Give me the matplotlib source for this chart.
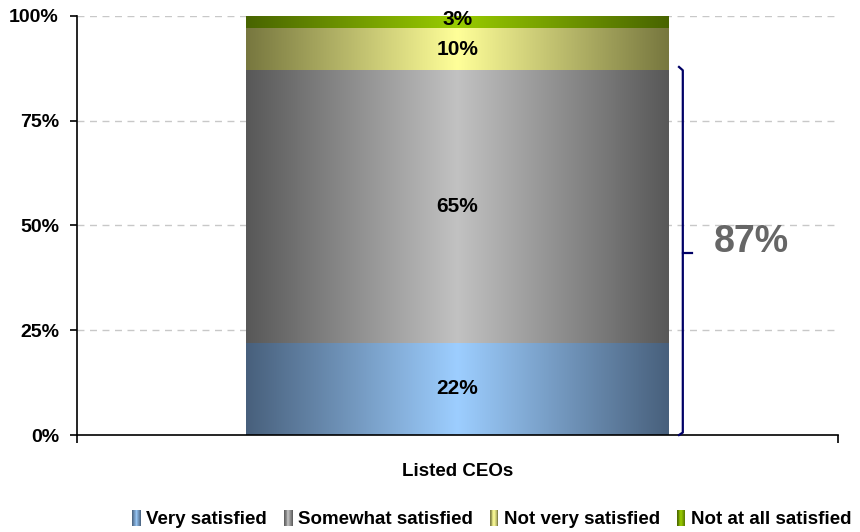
import numpy as np
import matplotlib
matplotlib.use("Agg")
import matplotlib.pyplot as plt
from matplotlib.colors import LinearSegmentedColormap
from matplotlib.legend_handler import HandlerBase
from matplotlib.patches import Rectangle

# ---- data ----
category = "Listed CEOs"
series_names = ["Very satisfied", "Somewhat satisfied", "Not very satisfied", "Not at all satisfied"]
series_values = [22, 65, 10, 3]
yticks = [0, 25, 50, 75, 100]
ytick_labels = ["0%", "25%", "50%", "75%", "100%"]

# gradient colours per series: (edge, centre)
series_colors = [("#48607c", "#9dceff"),
                 ("#585858", "#c2c2c2"),
                 ("#77773f", "#ffff99"),
                 ("#486400", "#99cc00")]

plt.rcParams["font.family"] = ["Liberation Sans", "DejaVu Sans"]
plt.rcParams["font.weight"] = "bold"


def gradient_cmap(edge, centre):
    return LinearSegmentedColormap.from_list("g", [edge, centre, edge])


fig = plt.figure(figsize=(8.6, 5.32), dpi=100)
ax = fig.add_axes([0.0895, 0.1823, 0.885, 0.788])

bar_w = 0.555
grad = np.linspace(0, 1, 256).reshape(1, -1)
bottom = 0
for val, (edge, centre) in zip(series_values, series_colors):
    ax.imshow(grad, cmap=gradient_cmap(edge, centre), aspect="auto",
              extent=(-bar_w / 2, bar_w / 2, bottom, bottom + val),
              interpolation="bilinear", zorder=2)
    ax.text(0, bottom + val / 2 + (0.6 if val < 5 else 0), f"{val}%",
            ha="center", va="center", fontsize=15, fontweight="bold",
            color="black", zorder=3)
    bottom += val

ax.set_xlim(-0.5, 0.5)
ax.set_ylim(0, 100)

# grid
for y in yticks[1:]:
    ax.axhline(y, color="#c8c8c8", lw=1, ls=(0, (5, 4)), zorder=1)

# axes styling
for s in ["top", "right"]:
    ax.spines[s].set_visible(False)
ax.spines["left"].set_linewidth(1.2)
ax.spines["bottom"].set_linewidth(1.2)
ax.set_yticks(yticks)
ax.set_yticklabels(ytick_labels, fontsize=14, fontweight="bold")
ax.tick_params(axis="y", direction="out", length=5, width=1.2, pad=8)
ax.set_xticks([-0.5, 0.5])
ax.set_xticklabels(["", ""])
ax.tick_params(axis="x", which="major", direction="out", length=6, width=1.2)
ax.set_xticks([0], minor=True)
ax.set_xticklabels([category], minor=True, fontsize=13.5, fontweight="bold")
ax.tick_params(axis="x", which="minor", length=0, pad=20)

# bracket spanning the satisfied share
satisfied = series_values[0] + series_values[1]
x0, x1, x2 = 0.291, 0.296, 0.308
ax.plot([x0, x1, x1, x0], [satisfied + 0.8, satisfied, 0.6, 0],
        color="#000066", lw=1.6, clip_on=False, zorder=3, solid_joinstyle="round")
ax.plot([x1, x2], [satisfied / 2, satisfied / 2], color="#000066", lw=1.6,
        clip_on=False, zorder=3)
ax.text(0.386, satisfied / 2 + 2.5, f"{satisfied}%", ha="center", va="center",
        fontsize=27, fontweight="bold", color="#666666")


# legend with gradient swatches
class GradientHandler(HandlerBase):
    def __init__(self, edge, centre):
        super().__init__()
        self.cmap = gradient_cmap(edge, centre)

    def create_artists(self, legend, orig_handle, xdescent, ydescent,
                       width, height, fontsize, trans):
        n = 10
        arts = []
        w = width / n
        for i in range(n):
            c = self.cmap((i + 0.5) / n)
            arts.append(Rectangle((-xdescent + i * w, -ydescent), w * 1.05, height,
                                  facecolor=c, edgecolor="none", transform=trans))
        return arts


handles = [Rectangle((0, 0), 1, 1) for _ in series_names]
handler_map = {h: GradientHandler(*c) for h, c in zip(handles, series_colors)}
fig.legend(handles, series_names, handler_map=handler_map, loc="lower center",
           bbox_to_anchor=(0.572, -0.025), ncol=4, frameon=False,
           handlelength=0.45, handleheight=1.0, handletextpad=0.3,
           columnspacing=0.9, prop={"weight": "bold", "size": 13.5})

fig.savefig("out.png", dpi=100)
